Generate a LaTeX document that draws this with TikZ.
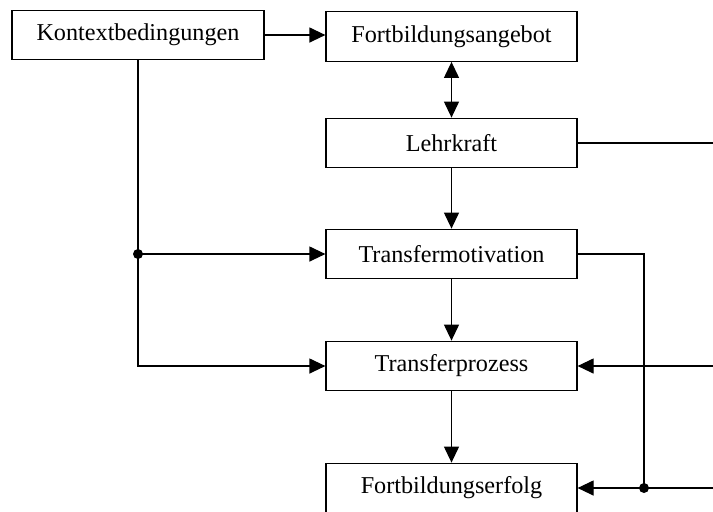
\documentclass[tikz,border=0pt]{standalone}
\usepackage{fontspec}
\setmainfont{Liberation Serif}
\usetikzlibrary{arrows.meta}
\tikzset{
  kasten/.style={draw, line width=0.6pt, minimum width=125.5pt, minimum height=24.8pt, inner sep=0pt, font=\fontsize{12.1}{14}\selectfont},
  spitze/.tip={Triangle[length=8pt,width=7.5pt]},
  pfeil/.style={-spitze},
  punkt/.style={circle, fill, inner sep=0pt, minimum size=5pt}
}
\begin{document}
\begin{tikzpicture}[x=0.5pt,y=-0.5pt,line width=0.6pt]
\useasboundingbox (0,0) rectangle (713,511);
\node[kasten, minimum width=126pt] (kontext) at (138,35) {Kontextbedingungen};
\node[kasten] (angebot) at (451.5,36.5) {Fortbildungsangebot};
\node[kasten] (lehrkraft) at (451.5,143) {Lehrkraft};
\node[kasten] (motivation) at (451.5,254) {Transfermotivation};
\node[kasten] (prozess) at (451.5,366) {Transferprozess};
\node[kasten] (erfolg) at (451.5,488) {Fortbildungserfolg};
\coordinate (rand1) at (713,143);
\coordinate (rand2) at (713,366);
\coordinate (rand3) at (713,488);
\node[punkt] (knoten1) at (kontext.south |- motivation.west) {};
\node[punkt] (knoten2) at (644,488) {};
\draw[pfeil] (kontext.east) -- (kontext.east -| angebot.west);
\draw[spitze-spitze] (angebot.south) -- (lehrkraft.north);
\draw (lehrkraft.east) -- (rand1);
\draw[pfeil] (lehrkraft.south) -- (motivation.north);
\draw[pfeil] (motivation.south) -- (prozess.north);
\draw[pfeil] (prozess.south) -- (erfolg.north);
\draw (kontext.south) -- (knoten1.center);
\draw[pfeil] (knoten1.center) -- (motivation.west);
\draw[pfeil] (knoten1.center) |- (prozess.west);
\draw (motivation.east) -| (knoten2.center);
\draw[pfeil] (rand3) -- (erfolg.east);
\draw[pfeil] (rand2) -- (prozess.east);
\end{tikzpicture}
\end{document}
